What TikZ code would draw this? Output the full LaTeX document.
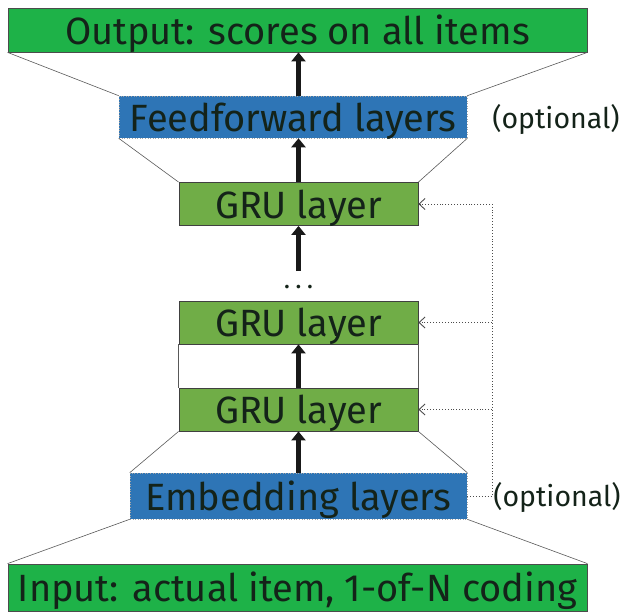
\documentclass[tikz,border=0pt]{standalone}
\usepackage{fontspec}
\setmainfont{Fira Sans}
\usetikzlibrary{arrows.meta}
\definecolor{outgreen}{RGB}{30,178,72}
\definecolor{layblue}{RGB}{46,117,182}
\definecolor{grugreen}{RGB}{112,173,71}
\definecolor{txt}{RGB}{20,35,25}
\begin{document}
\begin{tikzpicture}[x=1pt,y=-1pt,
 box/.style={rectangle, inner sep=0pt, text height=28pt, text depth=0pt, font=\fontsize{38}{42}\selectfont, text=txt},
 iobox/.style={box, fill=outgreen, draw=black!70, line width=0.8pt, minimum width=579pt},
 bluebox/.style={box, fill=layblue, draw=black!35, dotted, line width=0.6pt},
 grubox/.style={box, fill=grugreen, draw=black!75, line width=0.8pt, minimum width=239pt, minimum height=43pt},
 fwd/.style={line width=5.5pt, -{Triangle[width=14pt,length=9pt]}, black!90},
 link/.style={draw=black!65, line width=0.6pt},
 fb/.style={draw=black!70, dotted, line width=0.9pt},
 fbarrow/.style={fb, -{Straight Barb[length=6pt,width=11pt]}},
 opt/.style={font=\fontsize{28.5}{32}\selectfont, text=txt, inner sep=0pt}]
\useasboundingbox (0,0) rectangle (623,613);
% boxes
\node[iobox, minimum height=44pt] (out) at (297.5,30) {Output: scores on all items};
\node[bluebox, minimum width=348pt, minimum height=42pt] (ff) at (293,117) {Feedforward layers};
\node[grubox] (gru1) at (298.5,204) {GRU layer};
\node[grubox] (gru2) at (298.5,322.5) {GRU layer};
\node[grubox] (gru3) at (298.5,409.5) {GRU layer};
\node[bluebox, minimum width=337pt, minimum height=46pt] (emb) at (298.5,496) {Embedding layers};
\node[iobox, minimum height=47pt] (inp) at (297.5,587.5) {Input: actual item, 1-of-N coding};
\node[opt] (opt1) at (556,119) {(optional)};
\node[opt] (opt2) at (557,497) {(optional)};
\node[font=\bfseries\fontsize{20}{24}\selectfont, text=txt, inner sep=0pt] (dots) at (298.5,287) {.\,\,.\,\,.};
\coordinate (dotsarrow) at (298.5,271);
\coordinate (fbx) at (492,0);
% trapezoid outlines
\draw[link] (out.south west) -- (ff.north west);
\draw[link] (out.south east) -- (ff.north east);
\draw[link] (ff.south west) -- (gru1.north west);
\draw[link] (ff.south east) -- (gru1.north east);
\draw[link] (gru2.south west) -- (gru3.north west);
\draw[link] (gru2.south east) -- (gru3.north east);
\draw[link] (gru3.south west) -- (emb.north west);
\draw[link] (gru3.south east) -- (emb.north east);
\draw[link] (emb.south west) -- (inp.north west);
\draw[link] (emb.south east) -- (inp.north east);
% forward arrows
\draw[fwd] (gru1.north |- ff.north) -- (gru1.north |- out.south);
\draw[fwd] (gru1.north) -- (gru1.north |- ff.south);
\draw[fwd] (dotsarrow) -- (gru1.south);
\draw[fwd] (gru3.north) -- (gru2.south);
\draw[fwd] (gru3.north |- emb.north) -- (gru3.south);
% feedback
\draw[fbarrow] (emb.east) -| (fbx |- gru1.east) -- (gru1.east);
\draw[fbarrow] (fbx |- gru2.east) -- (gru2.east);
\draw[fbarrow] (fbx |- gru3.east) -- (gru3.east);
\end{tikzpicture}
\end{document}
